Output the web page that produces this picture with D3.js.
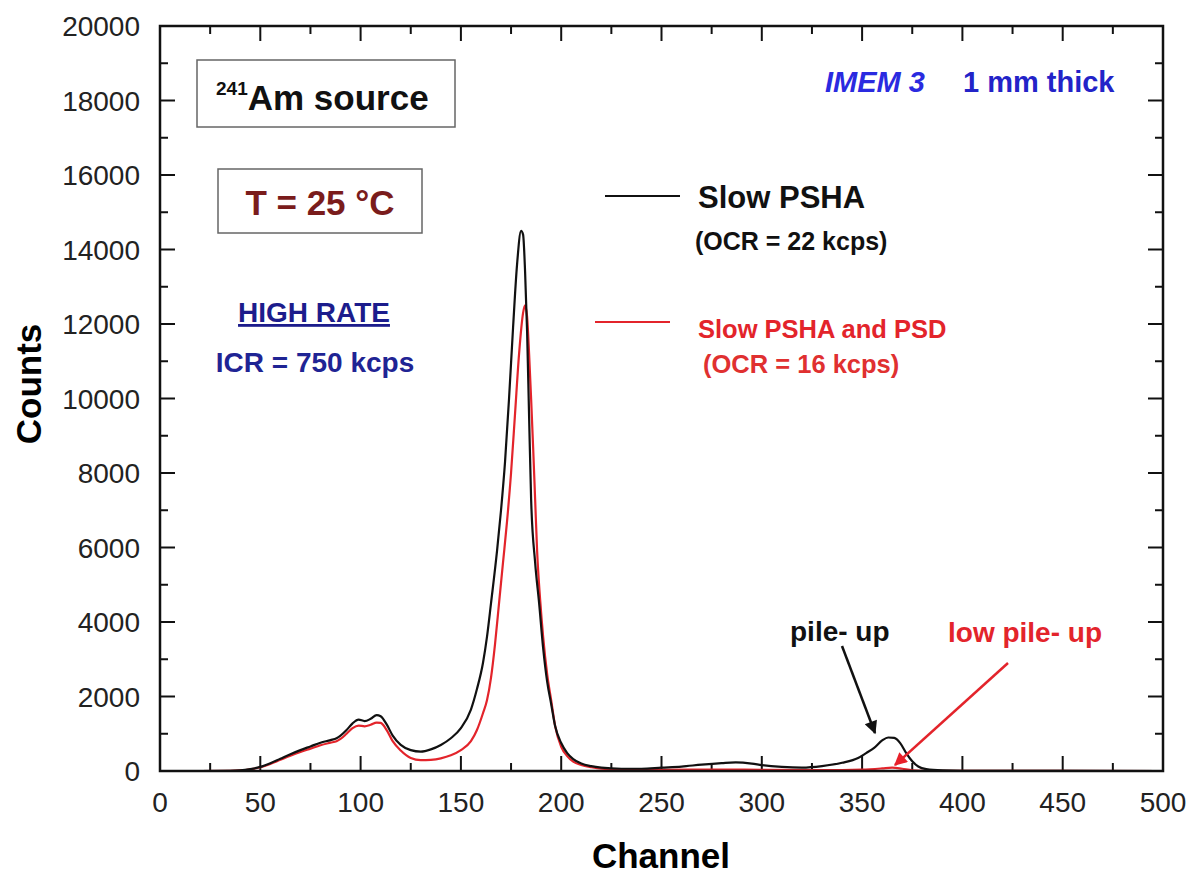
<!DOCTYPE html>
<html>
<head>
<meta charset="utf-8">
<script src="https://cdn.jsdelivr.net/npm/d3@7"></script>
<style>
	body { margin: 0; background: #fff; }
	svg text { font-family: "Liberation Sans", Arial, sans-serif; }
</style>
</head>
<body>
<div id="chart"></div>
<script>
// channel, counts
const slowPSHA = [
	[0,0],[20,0],[35,5],[40,15],[45,50],[50,110],[55,210],[60,330],[65,450],[70,560],[75,660],[80,760],
	[85,830],[88,880],[90,950],[93,1100],[96,1280],[99,1380],[102,1340],[105,1400],[108,1500],[110,1470],
	[113,1250],[116,950],[120,700],[125,560],[130,520],[135,580],[140,700],[145,880],[150,1150],[155,1650],
	[158,2200],[161,2900],[163,3600],[165,4500],[168,5900],[170,7000],[172,8300],[174,10000],[176,11900],
	[178,13600],[180,14500],[181,14400],[182,13400],[183,11800],[184,9500],[185,7300],[187,5600],[189,4500],
	[191,3300],[193,2400],[195,1800],[197,1200],[200,750],[203,480],[206,320],[210,200],[215,130],[220,90],
	[230,60],[240,60],[250,90],[260,120],[270,170],[280,210],[287,230],[295,200],[300,160],[310,110],[320,90],
	[330,130],[340,220],[348,350],[352,480],[356,620],[360,820],[363,900],[366,890],[369,750],[372,480],
	[375,260],[378,120],[382,50],[390,15],[400,5],[500,0]
];
const slowPSHA_PSD = [
	[0,0],[20,0],[35,5],[40,15],[45,45],[50,100],[55,190],[60,300],[65,410],[70,510],[75,600],[80,690],
	[85,760],[88,800],[90,860],[93,1000],[96,1150],[99,1220],[102,1200],[105,1240],[108,1300],[110,1290],
	[113,1100],[116,800],[120,550],[125,350],[130,290],[135,300],[140,340],[145,420],[150,560],[155,800],
	[158,1100],[161,1550],[163,1900],[165,2500],[167,3400],[169,4500],[171,5600],[173,6700],[175,8000],
	[177,9600],[179,11200],[181,12300],[182,12500],[183,12200],[184,11200],[185,10000],[186,8700],[187,7300],
	[188,5900],[189.5,4600],[191,3600],[193,2600],[195,1900],[197,1200],[200,650],[203,400],[206,250],
	[210,160],[215,100],[220,60],[230,40],[250,30],[280,40],[300,30],[330,25],[350,40],[360,70],[365,90],
	[370,60],[375,20],[385,5],[500,0]
];
const xTicks = [0,50,100,150,200,250,300,350,400,450,500];
const yTicks = [0,2000,4000,6000,8000,10000,12000,14000,16000,18000,20000];

const W = 1195, H = 878;
const m = {left: 160, right: 32, top: 26, bottom: 107};
const iw = W - m.left - m.right, ih = H - m.top - m.bottom;

const svg = d3.select('#chart').append('svg')
	.attr('width', W).attr('height', H);

const defs = svg.append('defs');
[['arrBlack','#111'],['arrRed','#e8202a']].forEach(function(a){
	defs.append('marker')
		.attr('id', a[0])
		.attr('viewBox', '0 0 10 10')
		.attr('refX', 9).attr('refY', 5)
		.attr('markerWidth', 18).attr('markerHeight', 13)
		.attr('markerUnits', 'userSpaceOnUse')
		.attr('orient', 'auto')
	  .append('path')
		.attr('d', 'M0,0 L10,5 L0,10 Z')
		.attr('fill', a[1]);
});

const plot = svg.append('g').attr('transform', 'translate(' + m.left + ',' + m.top + ')');

const x = d3.scaleLinear().domain([0, 500]).range([0, iw]);
const y = d3.scaleLinear().domain([0, 20000]).range([ih, 0]);

//tick marks (inward, all four sides)
const xMinor = d3.range(25, 500, 50);
const yMinor = d3.range(1000, 20000, 2000);

function ticksX(g, vals, len, y0, dir){
	g.selectAll(null).data(vals).enter().append('line')
		.attr('x1', d => x(d)).attr('x2', d => x(d))
		.attr('y1', y0).attr('y2', y0 + dir * len)
		.attr('stroke', '#111').attr('stroke-width', 2);
}
function ticksY(g, vals, len, x0, dir){
	g.selectAll(null).data(vals).enter().append('line')
		.attr('y1', d => y(d)).attr('y2', d => y(d))
		.attr('x1', x0).attr('x2', x0 + dir * len)
		.attr('stroke', '#111').attr('stroke-width', 2);
}
const tg = plot.append('g');
ticksX(tg, xTicks, 15, ih, -1);
ticksX(tg, xMinor, 8, ih, -1);
ticksX(tg, xTicks, 15, 0, 1);
ticksX(tg, xMinor, 8, 0, 1);
ticksY(tg, yTicks, 15, 0, 1);
ticksY(tg, yMinor, 8, 0, 1);
ticksY(tg, yTicks, 15, iw, -1);
ticksY(tg, yMinor, 8, iw, -1);

//tick labels
plot.append('g').selectAll('text').data(xTicks).enter().append('text')
	.attr('x', d => x(d)).attr('y', ih + 41)
	.attr('text-anchor', 'middle')
	.style('font-size', '28px').attr('fill', '#222')
	.text(d => d);
plot.append('g').selectAll('text').data(yTicks).enter().append('text')
	.attr('x', -20).attr('y', d => y(d) + 10)
	.attr('text-anchor', 'end')
	.style('font-size', '28px').attr('fill', '#222')
	.text(d => d);

//axis titles
svg.append('text')
	.attr('transform', 'translate(41,384) rotate(-90)')
	.attr('text-anchor', 'middle')
	.style('font-size', '35px').style('font-weight', 'bold')
	.text('Counts');
svg.append('text')
	.attr('x', 661).attr('y', 868)
	.attr('text-anchor', 'middle')
	.style('font-size', '35px').style('font-weight', 'bold')
	.text('Channel');

//curves
const valueLine = d3.line()
	.curve(d3.curveMonotoneX)
	.x(d => x(d[0]))
	.y(d => y(d[1]));

plot.append('path').datum(slowPSHA_PSD)
	.attr('fill', 'none').attr('stroke', '#e3242b').attr('stroke-width', 2.2)
	.attr('d', valueLine);
plot.append('path').datum(slowPSHA)
	.attr('fill', 'none').attr('stroke', '#111').attr('stroke-width', 2.2)
	.attr('d', valueLine);

//frame
plot.append('rect')
	.attr('width', iw).attr('height', ih)
	.attr('fill', 'none').attr('stroke', '#111').attr('stroke-width', 2.5);

//annotation boxes
svg.append('rect').attr('x', 197).attr('y', 60).attr('width', 258).attr('height', 67)
	.attr('fill', '#fff').attr('stroke', '#666').attr('stroke-width', 1.5);
const am = svg.append('text').attr('x', 216).attr('y', 110)
	.style('font-weight', 'bold').attr('fill', '#111');
am.append('tspan').style('font-size', '19px').attr('dy', -15).text('241');
am.append('tspan').style('font-size', '35px').attr('dy', 15).text('Am source');

svg.append('rect').attr('x', 218).attr('y', 169).attr('width', 204).attr('height', 64)
	.attr('fill', '#fff').attr('stroke', '#666').attr('stroke-width', 1.5);
svg.append('text').attr('x', 320).attr('y', 215)
	.attr('text-anchor', 'middle')
	.style('font-size', '35px').style('font-weight', 'bold').attr('fill', '#7a1c1c')
	.text('T = 25 °C');

svg.append('text').attr('x', 314).attr('y', 322)
	.attr('text-anchor', 'middle')
	.style('font-size', '28px').style('font-weight', 'bold').attr('fill', '#1c1c8c')
	.style('text-decoration', 'underline')
	.text('HIGH RATE');
svg.append('text').attr('x', 315).attr('y', 372)
	.attr('text-anchor', 'middle')
	.style('font-size', '28px').style('font-weight', 'bold').attr('fill', '#1f2494')
	.text('ICR = 750 kcps');

const imem = svg.append('text').attr('x', 825).attr('y', 92)
	.style('font-size', '29px').style('font-weight', 'bold').attr('fill', '#2a2ae0');
imem.append('tspan').style('font-style', 'italic').text('IMEM 3');
imem.append('tspan').attr('x', 963).style('fill', '#2323c8').text('1  mm thick');

//legend
svg.append('line').attr('x1', 605).attr('x2', 680).attr('y1', 196).attr('y2', 196)
	.attr('stroke', '#111').attr('stroke-width', 2);
svg.append('text').attr('x', 698).attr('y', 208)
	.style('font-size', '31px').style('font-weight', 'bold').attr('fill', '#111')
	.text('Slow PSHA');
svg.append('text').attr('x', 695).attr('y', 250)
	.style('font-size', '25px').style('font-weight', 'bold').attr('fill', '#111')
	.text('(OCR = 22 kcps)');
svg.append('line').attr('x1', 595).attr('x2', 670).attr('y1', 322).attr('y2', 322)
	.attr('stroke', '#e3242b').attr('stroke-width', 2);
svg.append('text').attr('x', 698).attr('y', 338)
	.style('font-size', '25.5px').style('font-weight', 'bold').attr('fill', '#e3242b')
	.text('Slow PSHA and PSD');
svg.append('text').attr('x', 703).attr('y', 373)
	.style('font-size', '25.5px').style('font-weight', 'bold').attr('fill', '#e03030')
	.text('(OCR = 16 kcps)');

//pile-up annotations
svg.append('text').attr('x', 790).attr('y', 641)
	.style('font-size', '28px').style('font-weight', 'bold').attr('fill', '#111')
	.text('pile- up');
svg.append('line').attr('x1', 842).attr('y1', 646).attr('x2', 875).attr('y2', 733)
	.attr('stroke', '#111').attr('stroke-width', 2.5)
	.attr('marker-end', 'url(#arrBlack)');
svg.append('text').attr('x', 948).attr('y', 642)
	.style('font-size', '28px').style('font-weight', 'bold').attr('fill', '#e3242b')
	.text('low pile- up');
svg.append('line').attr('x1', 1008).attr('y1', 663).attr('x2', 895).attr('y2', 765)
	.attr('stroke', '#e3242b').attr('stroke-width', 2.5)
	.attr('marker-end', 'url(#arrRed)');
</script>
</body>
</html>
